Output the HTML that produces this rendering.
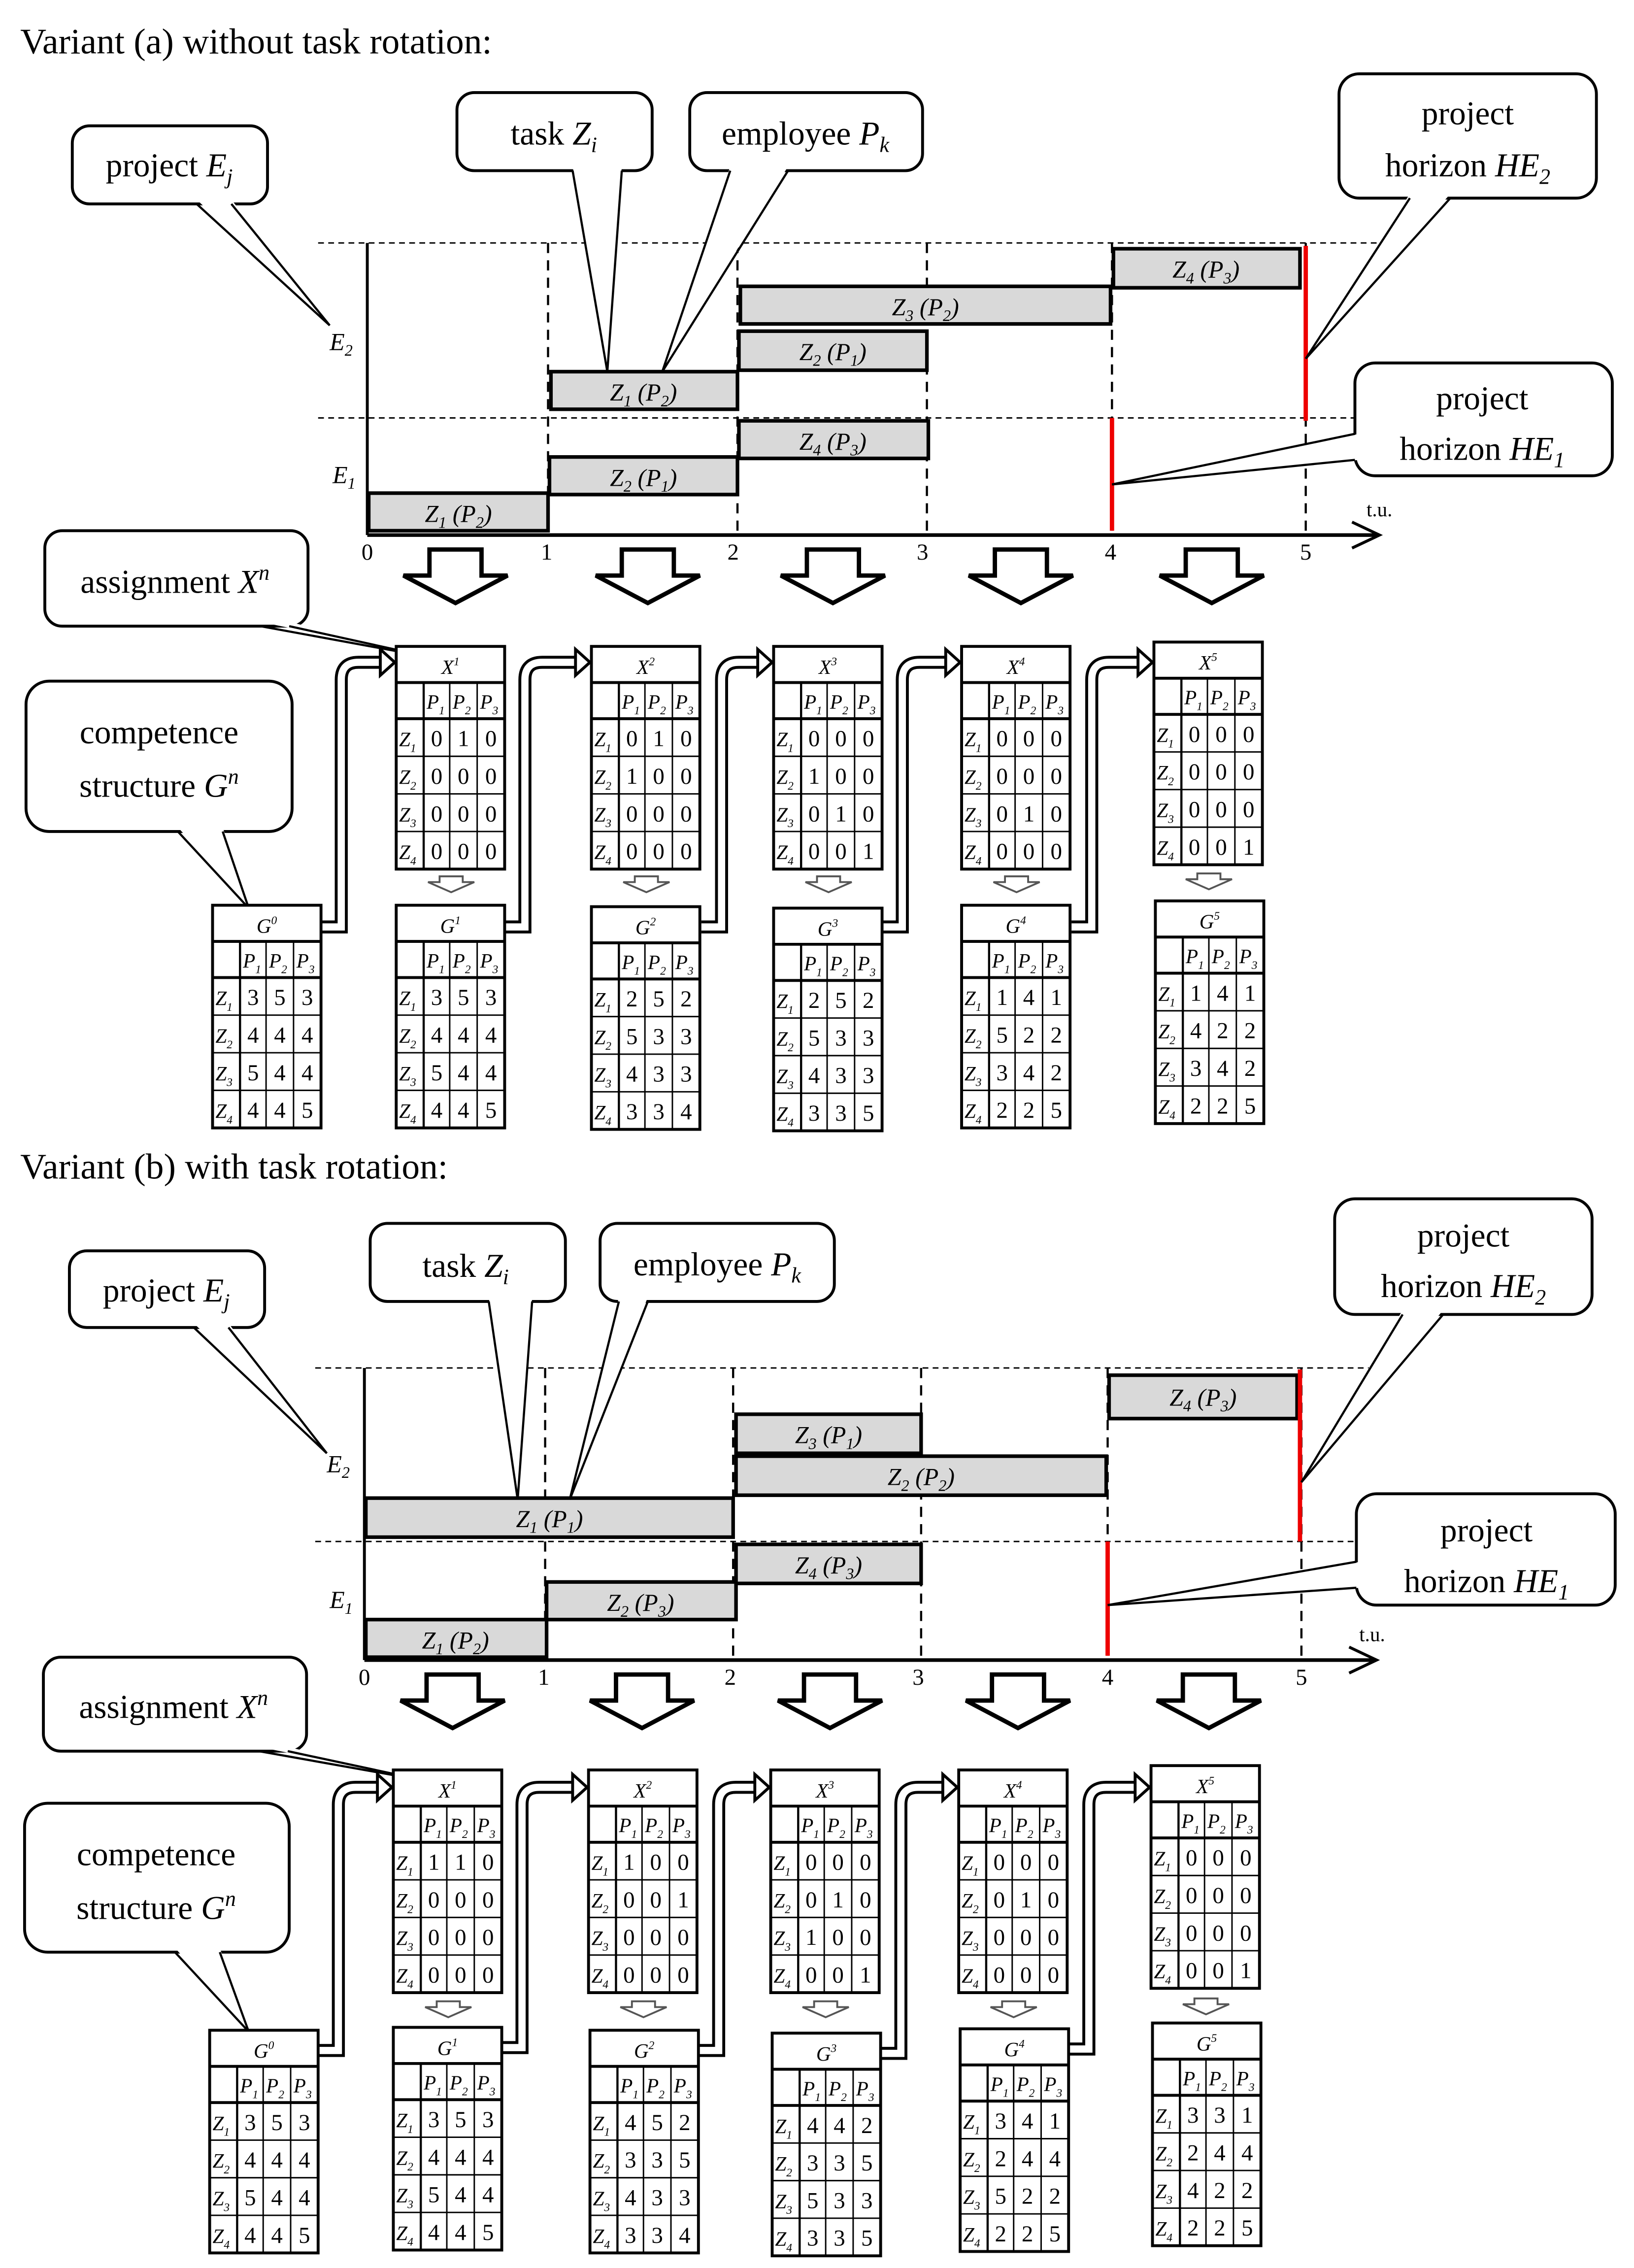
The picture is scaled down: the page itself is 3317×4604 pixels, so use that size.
<!DOCTYPE html>
<html><head><meta charset="utf-8"><style>html,body{margin:0;padding:0;background:#fff}svg{display:block}</style></head><body>
<svg xmlns="http://www.w3.org/2000/svg" xmlns:xlink="http://www.w3.org/1999/xlink" width="3317" height="4604" viewBox="0 0 1130 1568.4" font-family="Liberation Serif, serif">
<defs>
<g id="tbl">
<rect x="0" y="0" width="75" height="154" fill="#fff" stroke="#000" stroke-width="2"/>
<line x1="0" y1="25" x2="75" y2="25" stroke="#000" stroke-width="2"/>
<line x1="0" y1="50" x2="75" y2="50" stroke="#000" stroke-width="2"/>
<line x1="0" y1="76" x2="75" y2="76" stroke="#000" stroke-width="1"/>
<line x1="0" y1="102" x2="75" y2="102" stroke="#000" stroke-width="1"/>
<line x1="0" y1="128" x2="75" y2="128" stroke="#000" stroke-width="1"/>
<line x1="19" y1="25" x2="19" y2="154" stroke="#000" stroke-width="1.5"/>
<line x1="37" y1="25" x2="37" y2="154" stroke="#000" stroke-width="1"/>
<line x1="56" y1="25" x2="56" y2="154" stroke="#000" stroke-width="1"/>
<g font-style="italic" font-size="14">
<text x="21" y="43">P<tspan font-size="8" dy="4">1</tspan></text>
<text x="39" y="43">P<tspan font-size="8" dy="4">2</tspan></text>
<text x="58" y="43">P<tspan font-size="8" dy="4">3</tspan></text>
<text x="2" y="69">Z<tspan font-size="8" dy="4">1</tspan></text>
<text x="2" y="95">Z<tspan font-size="8" dy="4">2</tspan></text>
<text x="2" y="121">Z<tspan font-size="8" dy="4">3</tspan></text>
<text x="2" y="147">Z<tspan font-size="8" dy="4">4</tspan></text>
</g>
</g>
</defs>

<style>
.n{font-size:16px;text-anchor:middle}
.h{font-size:14px;font-style:italic;text-anchor:middle}
.bar{fill:#d9d9d9;stroke:#000;stroke-width:2.5}
.bl{font-size:17px;font-style:italic;text-anchor:middle}
.dh{stroke:#000;stroke-width:1;stroke-dasharray:4 3}
.dv{stroke:#000;stroke-width:1.5;stroke-dasharray:7 5}
.cb{fill:#fff;stroke:#000;stroke-width:2}
.ct{font-size:23px;text-anchor:middle}
.tk{font-size:16px;text-anchor:middle}
</style>

<!-- ================= VARIANT A ================= -->
<text x="14" y="37" font-size="25">Variant (a) without task rotation:</text>

<line class="dh" x1="220" y1="168" x2="965" y2="168"/>
<line class="dh" x1="220" y1="289" x2="965" y2="289"/>
<line x1="254" y1="168" x2="254" y2="370" stroke="#000" stroke-width="2"/>
<line class="dv" x1="379" y1="168" x2="379" y2="370"/>
<line class="dv" x1="510" y1="168" x2="510" y2="370"/>
<line class="dv" x1="641" y1="168" x2="641" y2="370"/>
<line class="dv" x1="769" y1="168" x2="769" y2="370"/>
<line class="dv" x1="903" y1="168" x2="903" y2="370"/>
<line x1="254" y1="370" x2="952" y2="370" stroke="#000" stroke-width="2.5"/>
<polyline points="935,361 954,370 935,379" fill="none" stroke="#000" stroke-width="2"/>
<text x="945" y="357" font-size="14">t.u.</text>
<text class="tk" x="254" y="387">0</text><text class="tk" x="378" y="387">1</text><text class="tk" x="507" y="387">2</text><text class="tk" x="638" y="387">3</text><text class="tk" x="768" y="387">4</text><text class="tk" x="903" y="387">5</text>
<text x="228" y="242" font-size="17" font-style="italic">E<tspan font-size="11" dy="4">2</tspan></text>
<text x="230" y="334" font-size="17" font-style="italic">E<tspan font-size="11" dy="4">1</tspan></text>

<rect class="bar" x="255" y="341" width="124" height="26"/><text class="bl" x="317" y="361">Z<tspan font-size="11" dy="4">1</tspan><tspan dy="-4"> (P</tspan><tspan font-size="11" dy="4">2</tspan><tspan dy="-4">)</tspan></text>
<rect class="bar" x="380" y="316" width="130" height="26"/><text class="bl" x="445" y="336">Z<tspan font-size="11" dy="4">2</tspan><tspan dy="-4"> (P</tspan><tspan font-size="11" dy="4">1</tspan><tspan dy="-4">)</tspan></text>
<rect class="bar" x="511" y="291" width="131" height="26"/><text class="bl" x="576" y="311">Z<tspan font-size="11" dy="4">4</tspan><tspan dy="-4"> (P</tspan><tspan font-size="11" dy="4">3</tspan><tspan dy="-4">)</tspan></text>
<rect class="bar" x="381" y="257" width="129" height="26"/><text class="bl" x="445" y="277">Z<tspan font-size="11" dy="4">1</tspan><tspan dy="-4"> (P</tspan><tspan font-size="11" dy="4">2</tspan><tspan dy="-4">)</tspan></text>
<rect class="bar" x="511" y="229" width="130" height="27"/><text class="bl" x="576" y="249">Z<tspan font-size="11" dy="4">2</tspan><tspan dy="-4"> (P</tspan><tspan font-size="11" dy="4">1</tspan><tspan dy="-4">)</tspan></text>
<rect class="bar" x="512" y="198" width="256" height="26"/><text class="bl" x="640" y="218">Z<tspan font-size="11" dy="4">3</tspan><tspan dy="-4"> (P</tspan><tspan font-size="11" dy="4">2</tspan><tspan dy="-4">)</tspan></text>
<rect class="bar" x="770" y="172" width="129" height="27"/><text class="bl" x="834" y="192">Z<tspan font-size="11" dy="4">4</tspan><tspan dy="-4"> (P</tspan><tspan font-size="11" dy="4">3</tspan><tspan dy="-4">)</tspan></text>
<line x1="903" y1="170" x2="903" y2="291" stroke="#e00" stroke-width="3"/>
<line x1="769" y1="289" x2="769" y2="367" stroke="#e00" stroke-width="3"/>

<!-- callouts A -->
<rect class="cb" x="50" y="87" width="135" height="54" rx="12"/>
<polygon points="136,138 160,138 228,225" fill="#fff"/><polyline points="136,141 228,225 160,141" fill="none" stroke="#000" stroke-width="1.5"/>
<text class="ct" x="117" y="122">project <tspan font-style="italic">E<tspan font-size="15" dy="5">j</tspan></tspan></text>

<rect class="cb" x="316" y="64" width="135" height="54" rx="12"/>
<polygon points="396,115 430,115 420,257" fill="#fff"/><polyline points="396,118 420,257 430,118" fill="none" stroke="#000" stroke-width="1.5"/>
<text class="ct" x="383" y="100">task <tspan font-style="italic">Z<tspan font-size="15" dy="5">i</tspan></tspan></text>

<rect class="cb" x="477" y="64" width="161" height="54" rx="12"/>
<polygon points="505,115 545,115 458,257" fill="#fff"/><polyline points="505,118 458,257 545,118" fill="none" stroke="#000" stroke-width="1.5"/>
<text class="ct" x="557" y="100">employee <tspan font-style="italic">P<tspan font-size="15" dy="5">k</tspan></tspan></text>

<rect class="cb" x="926" y="51" width="178" height="86" rx="14"/>
<polygon points="975,134 1003,134 903,248" fill="#fff"/><polyline points="975,137 903,248 1003,137" fill="none" stroke="#000" stroke-width="1.5"/>
<text class="ct" x="1015" y="86">project</text>
<text class="ct" x="1015" y="122">horizon <tspan font-style="italic">HE<tspan font-size="15" dy="5">2</tspan></tspan></text>

<rect class="cb" x="937" y="251" width="178" height="78" rx="14"/>
<polygon points="940,300 940,318 769,335" fill="#fff"/><polyline points="937,300 769,335 937,318" fill="none" stroke="#000" stroke-width="1.5"/>
<text class="ct" x="1025" y="283">project</text>
<text class="ct" x="1025" y="318">horizon <tspan font-style="italic">HE<tspan font-size="15" dy="5">1</tspan></tspan></text>

<rect class="cb" x="31" y="367" width="182" height="66" rx="12"/>
<polygon points="180,430 200,430 300,455" fill="#fff"/><polyline points="180,433 300,455 200,433" fill="none" stroke="#000" stroke-width="1.5"/>
<text class="ct" x="121" y="410">assignment <tspan font-style="italic">X<tspan font-size="15" dy="-9">n</tspan></tspan></text>

<rect class="cb" x="18" y="471" width="184" height="104" rx="16"/>
<polygon points="123,572 154,572 172,628" fill="#fff"/><polyline points="123,575 172,628 154,575" fill="none" stroke="#000" stroke-width="1.5"/>
<text class="ct" x="110" y="514">competence</text>
<text class="ct" x="110" y="551">structure  <tspan font-style="italic">G<tspan font-size="15" dy="-9">n</tspan></tspan></text>

<!-- big arrows A -->
<g fill="#fff" stroke="#000" stroke-width="3">
<polygon points="297,380 333,380 333,398 351,398 315,417 279,398 297,398"/>
<polygon points="430,380 466,380 466,398 484,398 448,417 412,398 430,398"/>
<polygon points="558,380 594,380 594,398 612,398 576,417 540,398 558,398"/>
<polygon points="688,380 724,380 724,398 742,398 706,417 670,398 688,398"/>
<polygon points="820,380 856,380 856,398 874,398 838,417 802,398 820,398"/>
</g>
<!-- small arrows A -->
<g fill="#fff" stroke="#555" stroke-width="1.3">
<polygon points="304,606 320,606 320,610 328,610 312,617 296,610 304,610"/>
<polygon points="439,606 455,606 455,610 463,610 447,617 431,610 439,610"/>
<polygon points="565,606 581,606 581,610 589,610 573,617 557,610 565,610"/>
<polygon points="695,606 711,606 711,610 719,610 703,617 687,610 695,610"/>
<polygon points="828,604 844,604 844,608 852,608 836,615 820,608 828,608"/>
</g>
<!-- fat curved arrows A -->
<g fill="none">
<path d="M222,641 H236 V470 Q236,458 248,458 H263" stroke="#000" stroke-width="9"/>
<path d="M222,641 H236 V470 Q236,458 248,458 H264" stroke="#fff" stroke-width="5"/>
<path d="M349,641 H363 V470 Q363,458 375,458 H398" stroke="#000" stroke-width="9"/>
<path d="M349,641 H363 V470 Q363,458 375,458 H399" stroke="#fff" stroke-width="5"/>
<path d="M485,641 H499 V470 Q499,458 511,458 H524" stroke="#000" stroke-width="9"/>
<path d="M485,641 H499 V470 Q499,458 511,458 H525" stroke="#fff" stroke-width="5"/>
<path d="M610,641 H624 V470 Q624,458 636,458 H654" stroke="#000" stroke-width="9"/>
<path d="M610,641 H624 V470 Q624,458 636,458 H655" stroke="#fff" stroke-width="5"/>
<path d="M741,641 H755 V470 Q755,458 767,458 H787" stroke="#000" stroke-width="9"/>
<path d="M741,641 H755 V470 Q755,458 767,458 H788" stroke="#fff" stroke-width="5"/>
</g>
<g fill="#fff" stroke="#000" stroke-width="2">
<polygon points="263,449 273,458 263,467"/>
<polygon points="398,449 408,458 398,467"/>
<polygon points="524,449 534,458 524,467"/>
<polygon points="654,449 664,458 654,467"/>
<polygon points="787,449 797,458 787,467"/>
</g>

<!-- tables A -->
<g transform="translate(274,447)"><use xlink:href="#tbl"/><text class="h" x="37.5" y="19">X<tspan font-size="8" dy="-6">1</tspan></text>
<text class="n" y="69"><tspan x="28">0</tspan><tspan x="46.5">1</tspan><tspan x="65.5">0</tspan></text><text class="n" y="95"><tspan x="28">0</tspan><tspan x="46.5">0</tspan><tspan x="65.5">0</tspan></text><text class="n" y="121"><tspan x="28">0</tspan><tspan x="46.5">0</tspan><tspan x="65.5">0</tspan></text><text class="n" y="147"><tspan x="28">0</tspan><tspan x="46.5">0</tspan><tspan x="65.5">0</tspan></text></g>
<g transform="translate(409,447)"><use xlink:href="#tbl"/><text class="h" x="37.5" y="19">X<tspan font-size="8" dy="-6">2</tspan></text>
<text class="n" y="69"><tspan x="28">0</tspan><tspan x="46.5">1</tspan><tspan x="65.5">0</tspan></text><text class="n" y="95"><tspan x="28">1</tspan><tspan x="46.5">0</tspan><tspan x="65.5">0</tspan></text><text class="n" y="121"><tspan x="28">0</tspan><tspan x="46.5">0</tspan><tspan x="65.5">0</tspan></text><text class="n" y="147"><tspan x="28">0</tspan><tspan x="46.5">0</tspan><tspan x="65.5">0</tspan></text></g>
<g transform="translate(535,447)"><use xlink:href="#tbl"/><text class="h" x="37.5" y="19">X<tspan font-size="8" dy="-6">3</tspan></text>
<text class="n" y="69"><tspan x="28">0</tspan><tspan x="46.5">0</tspan><tspan x="65.5">0</tspan></text><text class="n" y="95"><tspan x="28">1</tspan><tspan x="46.5">0</tspan><tspan x="65.5">0</tspan></text><text class="n" y="121"><tspan x="28">0</tspan><tspan x="46.5">1</tspan><tspan x="65.5">0</tspan></text><text class="n" y="147"><tspan x="28">0</tspan><tspan x="46.5">0</tspan><tspan x="65.5">1</tspan></text></g>
<g transform="translate(665,447)"><use xlink:href="#tbl"/><text class="h" x="37.5" y="19">X<tspan font-size="8" dy="-6">4</tspan></text>
<text class="n" y="69"><tspan x="28">0</tspan><tspan x="46.5">0</tspan><tspan x="65.5">0</tspan></text><text class="n" y="95"><tspan x="28">0</tspan><tspan x="46.5">0</tspan><tspan x="65.5">0</tspan></text><text class="n" y="121"><tspan x="28">0</tspan><tspan x="46.5">1</tspan><tspan x="65.5">0</tspan></text><text class="n" y="147"><tspan x="28">0</tspan><tspan x="46.5">0</tspan><tspan x="65.5">0</tspan></text></g>
<g transform="translate(798,444)"><use xlink:href="#tbl"/><text class="h" x="37.5" y="19">X<tspan font-size="8" dy="-6">5</tspan></text>
<text class="n" y="69"><tspan x="28">0</tspan><tspan x="46.5">0</tspan><tspan x="65.5">0</tspan></text><text class="n" y="95"><tspan x="28">0</tspan><tspan x="46.5">0</tspan><tspan x="65.5">0</tspan></text><text class="n" y="121"><tspan x="28">0</tspan><tspan x="46.5">0</tspan><tspan x="65.5">0</tspan></text><text class="n" y="147"><tspan x="28">0</tspan><tspan x="46.5">0</tspan><tspan x="65.5">1</tspan></text></g>

<g transform="translate(147,626)"><use xlink:href="#tbl"/><text class="h" x="37.5" y="19">G<tspan font-size="8" dy="-6">0</tspan></text>
<text class="n" y="69"><tspan x="28">3</tspan><tspan x="46.5">5</tspan><tspan x="65.5">3</tspan></text><text class="n" y="95"><tspan x="28">4</tspan><tspan x="46.5">4</tspan><tspan x="65.5">4</tspan></text><text class="n" y="121"><tspan x="28">5</tspan><tspan x="46.5">4</tspan><tspan x="65.5">4</tspan></text><text class="n" y="147"><tspan x="28">4</tspan><tspan x="46.5">4</tspan><tspan x="65.5">5</tspan></text></g>
<g transform="translate(274,626)"><use xlink:href="#tbl"/><text class="h" x="37.5" y="19">G<tspan font-size="8" dy="-6">1</tspan></text>
<text class="n" y="69"><tspan x="28">3</tspan><tspan x="46.5">5</tspan><tspan x="65.5">3</tspan></text><text class="n" y="95"><tspan x="28">4</tspan><tspan x="46.5">4</tspan><tspan x="65.5">4</tspan></text><text class="n" y="121"><tspan x="28">5</tspan><tspan x="46.5">4</tspan><tspan x="65.5">4</tspan></text><text class="n" y="147"><tspan x="28">4</tspan><tspan x="46.5">4</tspan><tspan x="65.5">5</tspan></text></g>
<g transform="translate(409,627)"><use xlink:href="#tbl"/><text class="h" x="37.5" y="19">G<tspan font-size="8" dy="-6">2</tspan></text>
<text class="n" y="69"><tspan x="28">2</tspan><tspan x="46.5">5</tspan><tspan x="65.5">2</tspan></text><text class="n" y="95"><tspan x="28">5</tspan><tspan x="46.5">3</tspan><tspan x="65.5">3</tspan></text><text class="n" y="121"><tspan x="28">4</tspan><tspan x="46.5">3</tspan><tspan x="65.5">3</tspan></text><text class="n" y="147"><tspan x="28">3</tspan><tspan x="46.5">3</tspan><tspan x="65.5">4</tspan></text></g>
<g transform="translate(535,628)"><use xlink:href="#tbl"/><text class="h" x="37.5" y="19">G<tspan font-size="8" dy="-6">3</tspan></text>
<text class="n" y="69"><tspan x="28">2</tspan><tspan x="46.5">5</tspan><tspan x="65.5">2</tspan></text><text class="n" y="95"><tspan x="28">5</tspan><tspan x="46.5">3</tspan><tspan x="65.5">3</tspan></text><text class="n" y="121"><tspan x="28">4</tspan><tspan x="46.5">3</tspan><tspan x="65.5">3</tspan></text><text class="n" y="147"><tspan x="28">3</tspan><tspan x="46.5">3</tspan><tspan x="65.5">5</tspan></text></g>
<g transform="translate(665,626)"><use xlink:href="#tbl"/><text class="h" x="37.5" y="19">G<tspan font-size="8" dy="-6">4</tspan></text>
<text class="n" y="69"><tspan x="28">1</tspan><tspan x="46.5">4</tspan><tspan x="65.5">1</tspan></text><text class="n" y="95"><tspan x="28">5</tspan><tspan x="46.5">2</tspan><tspan x="65.5">2</tspan></text><text class="n" y="121"><tspan x="28">3</tspan><tspan x="46.5">4</tspan><tspan x="65.5">2</tspan></text><text class="n" y="147"><tspan x="28">2</tspan><tspan x="46.5">2</tspan><tspan x="65.5">5</tspan></text></g>
<g transform="translate(799,623)"><use xlink:href="#tbl"/><text class="h" x="37.5" y="19">G<tspan font-size="8" dy="-6">5</tspan></text>
<text class="n" y="69"><tspan x="28">1</tspan><tspan x="46.5">4</tspan><tspan x="65.5">1</tspan></text><text class="n" y="95"><tspan x="28">4</tspan><tspan x="46.5">2</tspan><tspan x="65.5">2</tspan></text><text class="n" y="121"><tspan x="28">3</tspan><tspan x="46.5">4</tspan><tspan x="65.5">2</tspan></text><text class="n" y="147"><tspan x="28">2</tspan><tspan x="46.5">2</tspan><tspan x="65.5">5</tspan></text></g>

<!-- ================= VARIANT B ================= -->
<text x="14" y="815" font-size="25">Variant (b) with task rotation:</text>

<line class="dh" x1="218" y1="946" x2="962" y2="946"/>
<line class="dh" x1="218" y1="1066" x2="962" y2="1066"/>
<line x1="252" y1="946" x2="252" y2="1148" stroke="#000" stroke-width="2"/>
<line class="dv" x1="377" y1="946" x2="377" y2="1148"/>
<line class="dv" x1="507" y1="946" x2="507" y2="1148"/>
<line class="dv" x1="637" y1="946" x2="637" y2="1148"/>
<line class="dv" x1="766" y1="946" x2="766" y2="1148"/>
<line class="dv" x1="900" y1="946" x2="900" y2="1148"/>
<line x1="252" y1="1148" x2="950" y2="1148" stroke="#000" stroke-width="2.5"/>
<polyline points="933,1139 952,1148 933,1157" fill="none" stroke="#000" stroke-width="2"/>
<text x="940" y="1135" font-size="14">t.u.</text>
<text class="tk" x="252" y="1165">0</text><text class="tk" x="376" y="1165">1</text><text class="tk" x="505" y="1165">2</text><text class="tk" x="635" y="1165">3</text><text class="tk" x="766" y="1165">4</text><text class="tk" x="900" y="1165">5</text>
<text x="226" y="1018" font-size="17" font-style="italic">E<tspan font-size="11" dy="4">2</tspan></text>
<text x="228" y="1112" font-size="17" font-style="italic">E<tspan font-size="11" dy="4">1</tspan></text>

<rect class="bar" x="253" y="1120" width="125" height="26"/><text class="bl" x="315" y="1140">Z<tspan font-size="11" dy="4">1</tspan><tspan dy="-4"> (P</tspan><tspan font-size="11" dy="4">2</tspan><tspan dy="-4">)</tspan></text>
<rect class="bar" x="378" y="1094" width="131" height="26"/><text class="bl" x="443" y="1114">Z<tspan font-size="11" dy="4">2</tspan><tspan dy="-4"> (P</tspan><tspan font-size="11" dy="4">3</tspan><tspan dy="-4">)</tspan></text>
<rect class="bar" x="509" y="1068" width="128" height="27"/><text class="bl" x="573" y="1088">Z<tspan font-size="11" dy="4">4</tspan><tspan dy="-4"> (P</tspan><tspan font-size="11" dy="4">3</tspan><tspan dy="-4">)</tspan></text>
<rect class="bar" x="253" y="1036" width="254" height="27"/><text class="bl" x="380" y="1056">Z<tspan font-size="11" dy="4">1</tspan><tspan dy="-4"> (P</tspan><tspan font-size="11" dy="4">1</tspan><tspan dy="-4">)</tspan></text>
<rect class="bar" x="509" y="1007" width="256" height="27"/><text class="bl" x="637" y="1027">Z<tspan font-size="11" dy="4">2</tspan><tspan dy="-4"> (P</tspan><tspan font-size="11" dy="4">2</tspan><tspan dy="-4">)</tspan></text>
<rect class="bar" x="509" y="978" width="128" height="27"/><text class="bl" x="573" y="998">Z<tspan font-size="11" dy="4">3</tspan><tspan dy="-4"> (P</tspan><tspan font-size="11" dy="4">1</tspan><tspan dy="-4">)</tspan></text>
<rect class="bar" x="767" y="951" width="130" height="30"/><text class="bl" x="832" y="972">Z<tspan font-size="11" dy="4">4</tspan><tspan dy="-4"> (P</tspan><tspan font-size="11" dy="4">3</tspan><tspan dy="-4">)</tspan></text>
<line x1="899" y1="947" x2="899" y2="1066" stroke="#e00" stroke-width="3"/>
<line x1="766" y1="1066" x2="766" y2="1145" stroke="#e00" stroke-width="3"/>

<!-- callouts B -->
<rect class="cb" x="48" y="865" width="135" height="53" rx="12"/>
<polygon points="134,915 158,915 226,1005" fill="#fff"/><polyline points="134,918 226,1005 158,918" fill="none" stroke="#000" stroke-width="1.5"/>
<text class="ct" x="115" y="900">project <tspan font-style="italic">E<tspan font-size="15" dy="5">j</tspan></tspan></text>

<rect class="cb" x="256" y="846" width="135" height="54" rx="12"/>
<polygon points="338,897 368,897 358,1037" fill="#fff"/><polyline points="338,900 358,1037 368,900" fill="none" stroke="#000" stroke-width="1.5"/>
<text class="ct" x="322" y="883">task <tspan font-style="italic">Z<tspan font-size="15" dy="5">i</tspan></tspan></text>

<rect class="cb" x="415" y="846" width="162" height="54" rx="12"/>
<polygon points="428,897 448,897 394,1037" fill="#fff"/><polyline points="428,900 394,1037 448,900" fill="none" stroke="#000" stroke-width="1.5"/>
<text class="ct" x="496" y="882">employee <tspan font-style="italic">P<tspan font-size="15" dy="5">k</tspan></tspan></text>

<rect class="cb" x="923" y="829" width="178" height="80" rx="14"/>
<polygon points="970,906 998,906 900,1025" fill="#fff"/><polyline points="970,909 900,1025 998,909" fill="none" stroke="#000" stroke-width="1.5"/>
<text class="ct" x="1012" y="862">project</text>
<text class="ct" x="1012" y="897">horizon <tspan font-style="italic">HE<tspan font-size="15" dy="5">2</tspan></tspan></text>

<rect class="cb" x="938" y="1033" width="179" height="77" rx="14"/>
<polygon points="941,1080 941,1098 766,1110" fill="#fff"/><polyline points="938,1080 766,1110 938,1098" fill="none" stroke="#000" stroke-width="1.5"/>
<text class="ct" x="1028" y="1066">project</text>
<text class="ct" x="1028" y="1101">horizon <tspan font-style="italic">HE<tspan font-size="15" dy="5">1</tspan></tspan></text>

<rect class="cb" x="30" y="1146" width="182" height="65" rx="12"/>
<polygon points="179,1208 199,1208 297,1232" fill="#fff"/><polyline points="179,1211 297,1232 199,1211" fill="none" stroke="#000" stroke-width="1.5"/>
<text class="ct" x="120" y="1188">assignment <tspan font-style="italic">X<tspan font-size="15" dy="-9">n</tspan></tspan></text>

<rect class="cb" x="17" y="1247" width="183" height="103" rx="16"/>
<polygon points="121,1347 152,1347 172,1405" fill="#fff"/><polyline points="121,1350 172,1405 152,1350" fill="none" stroke="#000" stroke-width="1.5"/>
<text class="ct" x="108" y="1290">competence</text>
<text class="ct" x="108" y="1327">structure  <tspan font-style="italic">G<tspan font-size="15" dy="-9">n</tspan></tspan></text>

<!-- big arrows B -->
<g fill="#fff" stroke="#000" stroke-width="3">
<polygon points="295,1158 331,1158 331,1176 349,1176 313,1195 277,1176 295,1176"/>
<polygon points="426,1158 462,1158 462,1176 480,1176 444,1195 408,1176 426,1176"/>
<polygon points="556,1158 592,1158 592,1176 610,1176 574,1195 538,1176 556,1176"/>
<polygon points="686,1158 722,1158 722,1176 740,1176 704,1195 668,1176 686,1176"/>
<polygon points="818,1158 854,1158 854,1176 872,1176 836,1195 800,1176 818,1176"/>
</g>
<g fill="#fff" stroke="#555" stroke-width="1.3">
<polygon points="302,1384 318,1384 318,1388 326,1388 310,1395 294,1388 302,1388"/>
<polygon points="437,1384 453,1384 453,1388 461,1388 445,1395 429,1388 437,1388"/>
<polygon points="563,1384 579,1384 579,1388 587,1388 571,1395 555,1388 563,1388"/>
<polygon points="693,1384 709,1384 709,1388 717,1388 701,1395 685,1388 693,1388"/>
<polygon points="826,1382 842,1382 842,1386 850,1386 834,1393 818,1386 826,1386"/>
</g>
<g fill="none">
<path d="M220,1418 H234 V1248 Q234,1236 246,1236 H261" stroke="#000" stroke-width="9"/>
<path d="M220,1418 H234 V1248 Q234,1236 246,1236 H262" stroke="#fff" stroke-width="5"/>
<path d="M347,1416 H361 V1248 Q361,1236 373,1236 H396" stroke="#000" stroke-width="9"/>
<path d="M347,1416 H361 V1248 Q361,1236 373,1236 H397" stroke="#fff" stroke-width="5"/>
<path d="M483,1418 H497 V1248 Q497,1236 509,1236 H522" stroke="#000" stroke-width="9"/>
<path d="M483,1418 H497 V1248 Q497,1236 509,1236 H523" stroke="#fff" stroke-width="5"/>
<path d="M609,1420 H623 V1248 Q623,1236 635,1236 H652" stroke="#000" stroke-width="9"/>
<path d="M609,1420 H623 V1248 Q623,1236 635,1236 H653" stroke="#fff" stroke-width="5"/>
<path d="M739,1417 H753 V1248 Q753,1236 765,1236 H785" stroke="#000" stroke-width="9"/>
<path d="M739,1417 H753 V1248 Q753,1236 765,1236 H786" stroke="#fff" stroke-width="5"/>
</g>
<g fill="#fff" stroke="#000" stroke-width="2">
<polygon points="261,1227 271,1236 261,1245"/>
<polygon points="396,1227 406,1236 396,1245"/>
<polygon points="522,1227 532,1236 522,1245"/>
<polygon points="652,1227 662,1236 652,1245"/>
<polygon points="785,1227 795,1236 785,1245"/>
</g>

<!-- tables B -->
<g transform="translate(272,1224)"><use xlink:href="#tbl"/><text class="h" x="37.5" y="19">X<tspan font-size="8" dy="-6">1</tspan></text>
<text class="n" y="69"><tspan x="28">1</tspan><tspan x="46.5">1</tspan><tspan x="65.5">0</tspan></text><text class="n" y="95"><tspan x="28">0</tspan><tspan x="46.5">0</tspan><tspan x="65.5">0</tspan></text><text class="n" y="121"><tspan x="28">0</tspan><tspan x="46.5">0</tspan><tspan x="65.5">0</tspan></text><text class="n" y="147"><tspan x="28">0</tspan><tspan x="46.5">0</tspan><tspan x="65.5">0</tspan></text></g>
<g transform="translate(407,1224)"><use xlink:href="#tbl"/><text class="h" x="37.5" y="19">X<tspan font-size="8" dy="-6">2</tspan></text>
<text class="n" y="69"><tspan x="28">1</tspan><tspan x="46.5">0</tspan><tspan x="65.5">0</tspan></text><text class="n" y="95"><tspan x="28">0</tspan><tspan x="46.5">0</tspan><tspan x="65.5">1</tspan></text><text class="n" y="121"><tspan x="28">0</tspan><tspan x="46.5">0</tspan><tspan x="65.5">0</tspan></text><text class="n" y="147"><tspan x="28">0</tspan><tspan x="46.5">0</tspan><tspan x="65.5">0</tspan></text></g>
<g transform="translate(533,1224)"><use xlink:href="#tbl"/><text class="h" x="37.5" y="19">X<tspan font-size="8" dy="-6">3</tspan></text>
<text class="n" y="69"><tspan x="28">0</tspan><tspan x="46.5">0</tspan><tspan x="65.5">0</tspan></text><text class="n" y="95"><tspan x="28">0</tspan><tspan x="46.5">1</tspan><tspan x="65.5">0</tspan></text><text class="n" y="121"><tspan x="28">1</tspan><tspan x="46.5">0</tspan><tspan x="65.5">0</tspan></text><text class="n" y="147"><tspan x="28">0</tspan><tspan x="46.5">0</tspan><tspan x="65.5">1</tspan></text></g>
<g transform="translate(663,1224)"><use xlink:href="#tbl"/><text class="h" x="37.5" y="19">X<tspan font-size="8" dy="-6">4</tspan></text>
<text class="n" y="69"><tspan x="28">0</tspan><tspan x="46.5">0</tspan><tspan x="65.5">0</tspan></text><text class="n" y="95"><tspan x="28">0</tspan><tspan x="46.5">1</tspan><tspan x="65.5">0</tspan></text><text class="n" y="121"><tspan x="28">0</tspan><tspan x="46.5">0</tspan><tspan x="65.5">0</tspan></text><text class="n" y="147"><tspan x="28">0</tspan><tspan x="46.5">0</tspan><tspan x="65.5">0</tspan></text></g>
<g transform="translate(796,1221)"><use xlink:href="#tbl"/><text class="h" x="37.5" y="19">X<tspan font-size="8" dy="-6">5</tspan></text>
<text class="n" y="69"><tspan x="28">0</tspan><tspan x="46.5">0</tspan><tspan x="65.5">0</tspan></text><text class="n" y="95"><tspan x="28">0</tspan><tspan x="46.5">0</tspan><tspan x="65.5">0</tspan></text><text class="n" y="121"><tspan x="28">0</tspan><tspan x="46.5">0</tspan><tspan x="65.5">0</tspan></text><text class="n" y="147"><tspan x="28">0</tspan><tspan x="46.5">0</tspan><tspan x="65.5">1</tspan></text></g>

<g transform="translate(145,1404)"><use xlink:href="#tbl"/><text class="h" x="37.5" y="19">G<tspan font-size="8" dy="-6">0</tspan></text>
<text class="n" y="69"><tspan x="28">3</tspan><tspan x="46.5">5</tspan><tspan x="65.5">3</tspan></text><text class="n" y="95"><tspan x="28">4</tspan><tspan x="46.5">4</tspan><tspan x="65.5">4</tspan></text><text class="n" y="121"><tspan x="28">5</tspan><tspan x="46.5">4</tspan><tspan x="65.5">4</tspan></text><text class="n" y="147"><tspan x="28">4</tspan><tspan x="46.5">4</tspan><tspan x="65.5">5</tspan></text></g>
<g transform="translate(272,1402)"><use xlink:href="#tbl"/><text class="h" x="37.5" y="19">G<tspan font-size="8" dy="-6">1</tspan></text>
<text class="n" y="69"><tspan x="28">3</tspan><tspan x="46.5">5</tspan><tspan x="65.5">3</tspan></text><text class="n" y="95"><tspan x="28">4</tspan><tspan x="46.5">4</tspan><tspan x="65.5">4</tspan></text><text class="n" y="121"><tspan x="28">5</tspan><tspan x="46.5">4</tspan><tspan x="65.5">4</tspan></text><text class="n" y="147"><tspan x="28">4</tspan><tspan x="46.5">4</tspan><tspan x="65.5">5</tspan></text></g>
<g transform="translate(408,1404)"><use xlink:href="#tbl"/><text class="h" x="37.5" y="19">G<tspan font-size="8" dy="-6">2</tspan></text>
<text class="n" y="69"><tspan x="28">4</tspan><tspan x="46.5">5</tspan><tspan x="65.5">2</tspan></text><text class="n" y="95"><tspan x="28">3</tspan><tspan x="46.5">3</tspan><tspan x="65.5">5</tspan></text><text class="n" y="121"><tspan x="28">4</tspan><tspan x="46.5">3</tspan><tspan x="65.5">3</tspan></text><text class="n" y="147"><tspan x="28">3</tspan><tspan x="46.5">3</tspan><tspan x="65.5">4</tspan></text></g>
<g transform="translate(534,1406)"><use xlink:href="#tbl"/><text class="h" x="37.5" y="19">G<tspan font-size="8" dy="-6">3</tspan></text>
<text class="n" y="69"><tspan x="28">4</tspan><tspan x="46.5">4</tspan><tspan x="65.5">2</tspan></text><text class="n" y="95"><tspan x="28">3</tspan><tspan x="46.5">3</tspan><tspan x="65.5">5</tspan></text><text class="n" y="121"><tspan x="28">5</tspan><tspan x="46.5">3</tspan><tspan x="65.5">3</tspan></text><text class="n" y="147"><tspan x="28">3</tspan><tspan x="46.5">3</tspan><tspan x="65.5">5</tspan></text></g>
<g transform="translate(664,1403)"><use xlink:href="#tbl"/><text class="h" x="37.5" y="19">G<tspan font-size="8" dy="-6">4</tspan></text>
<text class="n" y="69"><tspan x="28">3</tspan><tspan x="46.5">4</tspan><tspan x="65.5">1</tspan></text><text class="n" y="95"><tspan x="28">2</tspan><tspan x="46.5">4</tspan><tspan x="65.5">4</tspan></text><text class="n" y="121"><tspan x="28">5</tspan><tspan x="46.5">2</tspan><tspan x="65.5">2</tspan></text><text class="n" y="147"><tspan x="28">2</tspan><tspan x="46.5">2</tspan><tspan x="65.5">5</tspan></text></g>
<g transform="translate(797,1399)"><use xlink:href="#tbl"/><text class="h" x="37.5" y="19">G<tspan font-size="8" dy="-6">5</tspan></text>
<text class="n" y="69"><tspan x="28">3</tspan><tspan x="46.5">3</tspan><tspan x="65.5">1</tspan></text><text class="n" y="95"><tspan x="28">2</tspan><tspan x="46.5">4</tspan><tspan x="65.5">4</tspan></text><text class="n" y="121"><tspan x="28">4</tspan><tspan x="46.5">2</tspan><tspan x="65.5">2</tspan></text><text class="n" y="147"><tspan x="28">2</tspan><tspan x="46.5">2</tspan><tspan x="65.5">5</tspan></text></g>
</svg>
</body></html>
